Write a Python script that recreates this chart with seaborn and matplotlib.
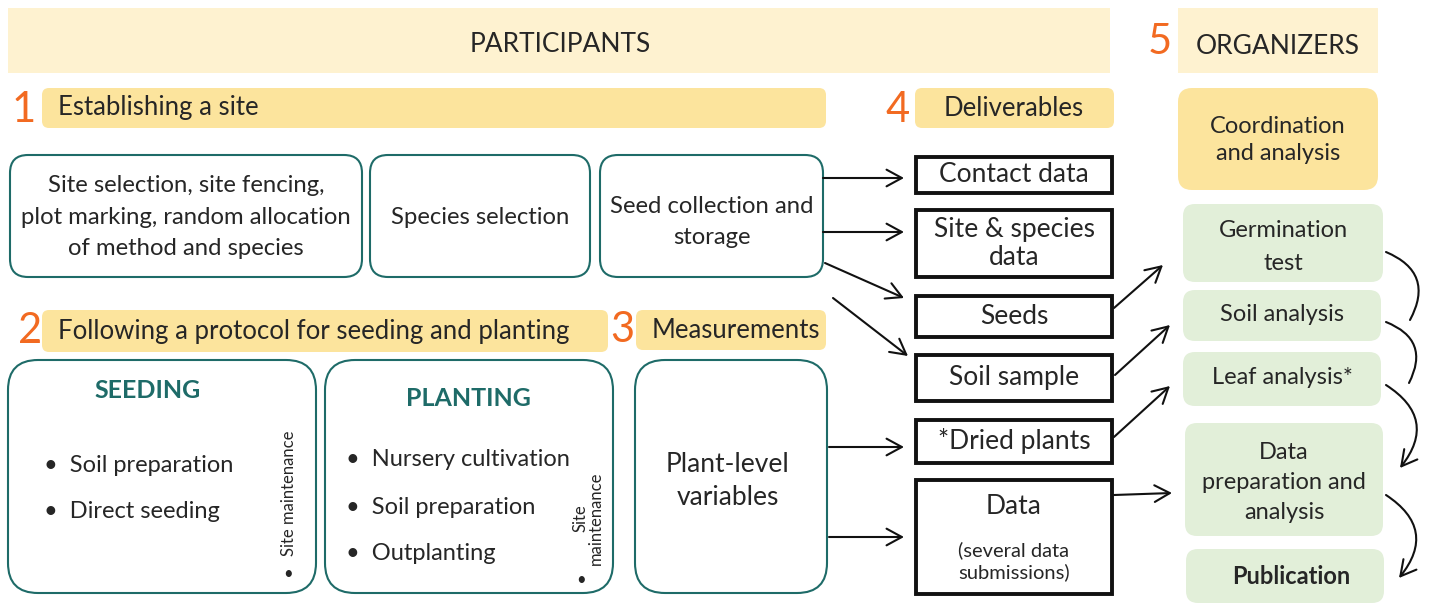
import matplotlib
matplotlib.use("Agg")
import matplotlib.pyplot as plt
import seaborn as sns
from matplotlib.patches import FancyBboxPatch, Rectangle, FancyArrowPatch

sns.set_theme(style="white")
plt.rcParams["font.family"] = ["Lato", "DejaVu Sans"]

# colours
cream = "#FEF2D0"
yellow = "#FCE49D"
green = "#E2EFD9"
teal = "#1E6B68"
orange = "#F26A21"

# text content
headers = ["PARTICIPANTS", "ORGANIZERS"]
step_numbers = ["1", "2", "3", "4", "5"]
step_titles = [
    "Establishing a site",
    "Following a protocol for seeding and planting",
    "Measurements",
    "Deliverables",
]
site_tasks = [
    "Site selection, site fencing,\nplot marking, random allocation\nof method and species",
    "Species selection",
    "Seed collection and\nstorage",
]
seeding_items = ["Soil preparation", "Direct seeding"]
planting_items = ["Nursery cultivation", "Soil preparation", "Outplanting"]
measure_text = "Plant-level\nvariables"
deliverables = [
    "Contact data",
    "Site & species\ndata",
    "Seeds",
    "Soil sample",
    "*Dried plants",
    "Data",
]
organizer_tasks = [
    "Germination\ntest",
    "Soil analysis",
    "Leaf analysis*",
    "Data\npreparation and\nanalysis",
    "Publication",
]

# geometry (pixel coords, y down)
site_boxes = [(10, 155, 352, 122), (370, 155, 220, 122), (600, 155, 223, 122)]
deliv_boxes = [
    (916, 157, 196, 36),
    (916, 210, 196, 67),
    (916, 296, 196, 41),
    (916, 355, 196, 46),
    (916, 420, 196, 43),
    (916, 480, 196, 114),
]
org_boxes = [
    (1183, 204, 200, 78),
    (1183, 290, 198, 51),
    (1183, 352, 198, 54),
    (1185, 423, 198, 113),
    (1186, 549, 198, 54),
]
org_spacing = [1.65, 1.2, 1.2, 1.55, 1.2]
org_dy = [4, -1, -1, 3, 0]

fig = plt.figure(figsize=(14.32, 6.03), dpi=100)
ax = fig.add_axes([0, 0, 1, 1])
ax.set_xlim(0, 1432)
ax.set_ylim(603, 0)
ax.axis("off")


def rbox(x, y, w, h, r, fc="white", ec="none", lw=1.5):
    ax.add_patch(
        FancyBboxPatch(
            (x, y), w, h,
            boxstyle=f"round,pad=0,rounding_size={r}",
            fc=fc, ec=ec, lw=lw,
        )
    )


def arrow(p0, p1, rad=0.0, head=True):
    ax.add_patch(
        FancyArrowPatch(
            p0, p1,
            arrowstyle="->,head_length=11,head_width=6" if head else "-",
            connectionstyle=f"arc3,rad={rad}",
            color="#111111", lw=1.5, shrinkA=0, shrinkB=0,
        )
    )


# top headers
ax.add_patch(Rectangle((8, 8), 1102, 65, fc=cream, ec="none"))
ax.text(560, 45, headers[0], ha="center", va="center", fontsize=19)
ax.add_patch(Rectangle((1178, 8), 200, 65, fc=cream, ec="none"))
ax.text(1278, 46, headers[1], ha="center", va="center", fontsize=19)

# step bars
bars = [(42, 88, 784, 40), (42, 310, 566, 42), (636, 310, 190, 40), (915, 88, 199, 40)]
text_x = [58, 58, 652, 1014]
for (x, y, w, h), t, tx in zip(bars, step_titles, text_x):
    rbox(x, y, w, h, 7, fc=yellow)
    ha = "center" if t == "Deliverables" else "left"
    ax.text(tx, y + h / 2, t, ha=ha, va="center", fontsize=18.5)

num_pos = [(24, 110), (30, 331), (622, 330), (898, 110), (1160, 42)]
for (x, y), n in zip(num_pos, step_numbers):
    ax.text(x, y, n, ha="center", va="center", fontsize=30, color=orange)

# organizer coordination box
rbox(1178, 88, 200, 102, 14, fc=yellow)
ax.text(1278, 140, "Coordination\nand analysis", ha="center", va="center",
        fontsize=17, linespacing=1.3)

# establishing a site boxes
for (x, y, w, h), t in zip(site_boxes, site_tasks):
    rbox(x, y, w, h, 18, ec=teal, lw=1.5)
    ax.text(x + w / 2, y + h / 2 + (6 if "storage" in t else 1), t, ha="center",
            va="center", fontsize=17.2,
            linespacing=1.55 if "storage" in t else 1.6)

# seeding / planting / measurements boxes
rbox(8, 360, 308, 233, 30, ec=teal, lw=1.5)
rbox(325, 360, 288, 233, 30, ec=teal, lw=1.5)
rbox(635, 360, 192, 233, 30, ec=teal, lw=1.5)

ax.text(148, 391, "SEEDING", ha="center", va="center", fontsize=18,
        fontweight="bold", color=teal)
ax.text(468, 398, "PLANTING", ha="center", va="center", fontsize=18,
        fontweight="bold", color=teal)
for i, t in enumerate(seeding_items):
    ax.text(44, 465 + 47 * i, "•  " + t, ha="left", va="center", fontsize=17)
for i, t in enumerate(planting_items):
    ax.text(346, 460 + 47 * i, "•  " + t, ha="left", va="center", fontsize=17)
ax.text(289, 493, "Site maintenance", ha="center", va="center", fontsize=12,
        rotation=90)
ax.text(288, 574, "•", ha="center", va="center", fontsize=12)
ax.text(588, 518, "Site\nmaintenance", ha="center", va="center", fontsize=12,
        rotation=90, linespacing=0.95)
ax.text(581, 580, "•", ha="center", va="center", fontsize=12)
ax.text(728, 481, measure_text, ha="center", va="center", fontsize=19,
        linespacing=1.4)

# deliverables
for (x, y, w, h), t in zip(deliv_boxes, deliverables):
    ax.add_patch(Rectangle((x, y), w, h, fc="white", ec="#111111", lw=2.8))
    if t == "Data":
        ax.text(x + w / 2, y + 26, t, ha="center", va="center", fontsize=19)
        ax.text(x + w / 2, y + 81, "(several data\nsubmissions)", ha="center",
                va="center", fontsize=14.5, linespacing=1.3)
    else:
        ax.text(x + w / 2, y + h / 2, t, ha="center", va="center", fontsize=19,
                linespacing=1.15)

# organizer tasks
for (x, y, w, h), t, ls, dy in zip(org_boxes, organizer_tasks, org_spacing, org_dy):
    rbox(x, y, w, h, 12, fc=green)
    bold = t == "Publication"
    ax.text(x + w / 2 + (6 if bold else 0), y + h / 2 + dy,
            t, ha="center", va="center", fontsize=17,
            fontweight="bold" if bold else "normal",
            linespacing=ls)

# arrows participants -> deliverables
arrow((823, 178), (904, 178))
arrow((823, 232), (904, 232))
arrow((825, 263), (904, 298))
arrow((833, 298), (908, 356))
arrow((829, 447), (904, 447))
arrow((829, 537), (904, 537))

# deliverables -> organizers
arrow((1114, 308), (1163, 265))
arrow((1115, 375), (1170, 325))
arrow((1114, 437), (1170, 386))
arrow((1114, 495), (1172, 493))

# curved connectors on the right
arrow((1386, 252), (1410, 320), rad=-0.55, head=False)
arrow((1386, 322), (1409, 383), rad=-0.55, head=False)
arrow((1386, 385), (1400, 468), rad=-0.55)
arrow((1386, 495), (1399, 578), rad=-0.55)

fig.savefig("out.png", dpi=100)
